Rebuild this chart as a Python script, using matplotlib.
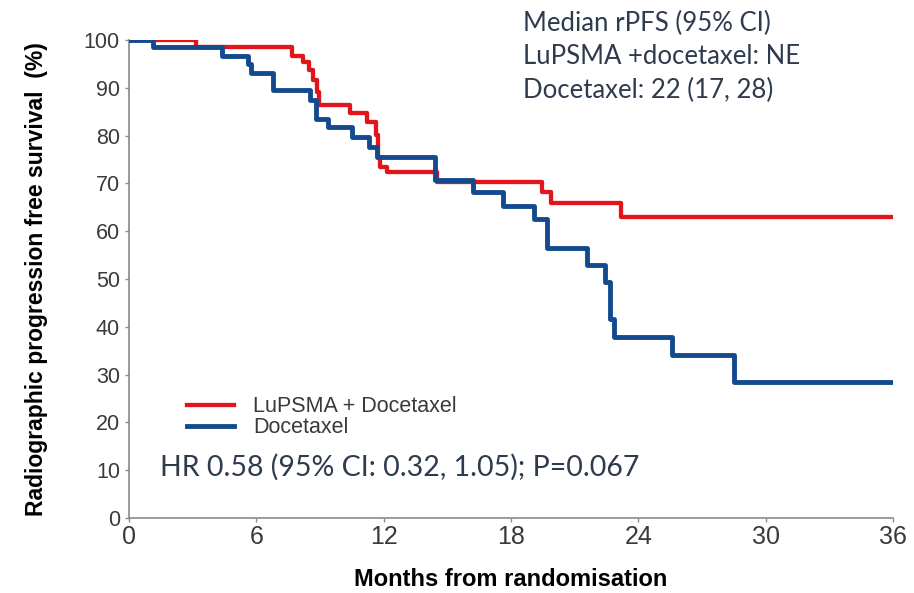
import matplotlib
matplotlib.use("Agg")
import matplotlib.pyplot as plt

# Kaplan-Meier steps (months, % free of progression)
lu_months = [0, 3.16, 7.67, 8.19, 8.46, 8.66, 8.85, 8.97, 10.4, 11.2, 11.65, 11.75, 11.84, 12.15, 14.5, 19.47, 19.9, 23.2, 36]
lu_surv = [100, 98.6, 96.7, 95.3, 93.7, 91.6, 89.2, 86.4, 84.7, 82.9, 80.1, 75.6, 73.5, 72.3, 70.4, 68.3, 65.8, 62.9, 62.9]

doc_months = [0, 1.13, 4.37, 5.6, 5.75, 6.8, 8.54, 8.8, 9.4, 10.5, 11.3, 11.7, 14.4, 16.2, 17.6, 19.06, 19.7, 21.6, 22.45, 22.66, 22.85, 25.6, 28.5, 36]
doc_surv = [100, 98.6, 96.7, 94.9, 93.2, 89.5, 87.4, 83.5, 81.7, 79.8, 77.7, 75.6, 70.7, 68.3, 65.3, 62.5, 56.4, 52.9, 49.4, 41.6, 37.9, 34.1, 28.4, 28.4]

arm_names = ["LuPSMA + Docetaxel", "Docetaxel"]
x_ticks = [0, 6, 12, 18, 24, 30, 36]
y_ticks = [0, 10, 20, 30, 40, 50, 60, 70, 80, 90, 100]

red = "#e3141c"
blue = "#124a8d"
grey_txt = "#3a3a3a"
note_col = "#2e3b4e"

fig = plt.figure(figsize=(9.14, 5.93), dpi=100)
ax = fig.add_axes([0.1411, 0.1265, 0.836, 0.806])

# blue drawn over red, as in the source figure
ax.step(lu_months, lu_surv, where="post", color=red, lw=3.1, label=arm_names[0], zorder=2)
ax.step(doc_months, doc_surv, where="post", color=blue, lw=3.5, label=arm_names[1], zorder=3)

ax.set_xlim(0, 36)
ax.set_ylim(0, 100)
ax.set_xticks(x_ticks)
ax.set_yticks(y_ticks)
for s in ["top", "right"]:
    ax.spines[s].set_visible(False)
for s in ["left", "bottom"]:
    ax.spines[s].set_color("#8a8a8a")
    ax.spines[s].set_linewidth(1.2)
ax.tick_params(axis="both", colors="#8a8a8a", length=3, width=1, labelcolor=grey_txt)
ax.tick_params(axis="x", pad=2)
for lab in ax.get_xticklabels():
    lab.set_family(["Liberation Sans Narrow", "Liberation Sans"])
    lab.set_fontsize(18)
for lab in ax.get_yticklabels():
    lab.set_family("Liberation Sans")
    lab.set_fontsize(15.5)

ax.set_xlabel("Months from randomisation", fontsize=17, fontweight="bold",
              family="Liberation Sans")
ax.xaxis.set_label_coords(0.5, -0.105)
ax.set_ylabel("Radiographic progression free survival  (%)", fontsize=16.5,
              fontweight="bold", family="Liberation Sans", labelpad=26)

leg = ax.legend(loc="upper left", bbox_to_anchor=(0.05, 0.295),
                frameon=False, handlelength=2.2, labelspacing=0.0, handletextpad=0.9,
                prop={"family": "Liberation Sans", "size": 15.5})
for t in leg.get_texts():
    t.set_color(grey_txt)

ax.text(0.04, 0.107, "HR 0.58 (95% CI: 0.32, 1.05); P=0.067", transform=ax.transAxes,
        fontsize=20.5, color=note_col, family="Lato", va="center")

fig.text(0.572, 0.982, "Median rPFS (95% CI)\nLuPSMA +docetaxel: NE\nDocetaxel: 22 (17, 28)",
         fontsize=18.5, color=note_col, family="Lato", va="top", linespacing=1.42)

fig.savefig("out.png", dpi=100)
